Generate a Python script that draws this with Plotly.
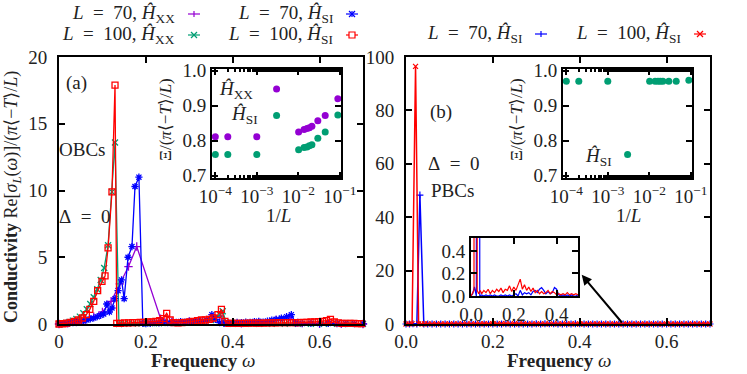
import plotly.graph_objects as go

W, H = 747, 374
FONT = "Liberation Serif"

PURPLE = "#9400d3"
GREEN = "#009e73"
BLUE = "#0000ff"
RED = "#ff0000"

# ---- panel (a): open boundaries, Delta = 0 ----
w_xx70 = [0, 0.02, 0.04, 0.06, 0.08, 0.1, 0.12, 0.14, 0.16, 0.179, 0.234, 0.26, 0.3,
          0.34, 0.37, 0.38, 0.42, 0.46, 0.5, 0.53, 0.55, 0.6, 0.65, 0.7]
s_xx70 = [0, 0.05, 0.15, 0.3, 0.55, 0.9, 1.7, 3.0, 4.3, 5.8, 0.4, 0.15, 0.2,
          0.3, 0.6, 0.1, 0.05, 0.1, 0.3, 0.5, 0.1, 0.02, 0.01, 0.0]

w_xx100 = [0, 0.008, 0.016, 0.024, 0.032, 0.04, 0.048, 0.056, 0.064, 0.072, 0.08, 0.088,
           0.096, 0.104, 0.113, 0.122, 0.129, 0.138, 0.15, 0.17, 0.19, 0.21, 0.23, 0.25,
           0.27, 0.29, 0.31, 0.33, 0.35, 0.36, 0.37, 0.377, 0.385, 0.4, 0.43, 0.46, 0.49,
           0.52, 0.55, 0.58, 0.61, 0.64, 0.67, 0.7]
s_xx100 = [0, 0.03, 0.08, 0.15, 0.25, 0.38, 0.55, 0.8, 1.1, 1.5, 2.0, 2.6,
           3.3, 4.2, 5.9, 9.9, 13.6, 0.0, 0.02, 0.03, 0.04, 0.05, 0.06, 0.08,
           0.1, 0.12, 0.15, 0.2, 0.3, 0.45, 0.7, 0.95, 0.1, 0.02, 0.01, 0.01, 0.01,
           0.01, 0.01, 0.01, 0.01, 0.01, 0.01, 0.01]

w_si70 = [0, 0.008, 0.016, 0.024, 0.032, 0.04, 0.048, 0.056, 0.064, 0.072, 0.08, 0.088,
          0.096, 0.103, 0.11, 0.116, 0.122, 0.129, 0.136, 0.144, 0.15, 0.159, 0.168,
          0.175, 0.184, 0.193, 0.2, 0.21, 0.22, 0.23, 0.24, 0.25, 0.26, 0.27, 0.28,
          0.29, 0.3, 0.31, 0.32, 0.33, 0.34, 0.352, 0.36, 0.37, 0.38, 0.39, 0.4, 0.41,
          0.42, 0.43, 0.44, 0.45, 0.46, 0.47, 0.48, 0.49, 0.5, 0.512, 0.524, 0.535,
          0.545, 0.56, 0.58, 0.6, 0.62, 0.64, 0.66, 0.68, 0.7]
s_si70 = [0, 0.02, 0.04, 0.07, 0.1, 0.15, 0.2, 0.25, 0.3, 0.38, 0.45, 0.55,
          0.65, 0.75, 1.5, 0.9, 1.2, 1.9, 2.5, 3.3, 1.9, 5.0, 5.8,
          10.3, 11.0, 0.05, 0.02, 0.05, 0.1, 0.08, 0.12, 0.1, 0.15, 0.12, 0.18,
          0.15, 0.2, 0.18, 0.22, 0.25, 0.3, 0.7, 0.35, 0.1, 0.05, 0.08, 0.1, 0.12,
          0.1, 0.15, 0.12, 0.18, 0.2, 0.15, 0.22, 0.3, 0.35, 0.45, 0.55, 0.7,
          0.05, 0.03, 0.05, 0.03, 0.04, 0.03, 0.03, 0.02, 0.02]

w_si100 = [0, 0.009, 0.018, 0.027, 0.036, 0.045, 0.054, 0.063, 0.071, 0.08, 0.089, 0.099,
           0.106, 0.113, 0.122, 0.129, 0.133, 0.142, 0.151, 0.16, 0.169, 0.178, 0.187,
           0.196, 0.205, 0.214, 0.223, 0.232, 0.24, 0.248, 0.256, 0.265, 0.274, 0.283,
           0.292, 0.301, 0.31, 0.319, 0.328, 0.337, 0.346, 0.355, 0.366, 0.374, 0.382,
           0.391, 0.4, 0.409, 0.418, 0.427, 0.436, 0.445, 0.454, 0.463, 0.472, 0.481,
           0.49, 0.499, 0.508, 0.517, 0.526, 0.535, 0.544, 0.553, 0.562, 0.571, 0.58,
           0.589, 0.598, 0.607, 0.616, 0.625, 0.634, 0.643, 0.652, 0.661, 0.67, 0.679,
           0.688, 0.697]
s_si100 = [0, 0.02, 0.06, 0.12, 0.2, 0.3, 0.45, 0.7, 1.1, 1.7, 2.5, 3.2,
           3.6, 5.7, 9.9, 17.9, 0.05, 0.05, 0.08, 0.08, 0.1, 0.1, 0.12,
           0.12, 0.15, 0.15, 0.2, 0.25, 0.4, 0.8, 0.3, 0.1, 0.08, 0.1,
           0.12, 0.15, 0.2, 0.25, 0.3, 0.3, 0.35, 0.45, 0.7, 1.1, 0.2,
           0.05, 0.05, 0.05, 0.05, 0.05, 0.06, 0.06, 0.06, 0.07, 0.07, 0.08,
           0.08, 0.09, 0.1, 0.1, 0.1, 0.1, 0.1, 0.1, 0.12, 0.12, 0.15,
           0.15, 0.18, 0.2, 0.25, 0.35, 0.15, 0.08, 0.05, 0.05, 0.04, 0.04,
           0.03, 0.03]

# inset (a): Xi / (pi <-T> / L) versus 1/L
inv_L = [1e-4, 2e-4, 1e-3, 3e-3, 0.0102, 0.0138, 0.0162, 0.0185, 0.0213, 0.0296, 0.0446, 0.09]
xi_xx = [0.811, 0.811, 0.811, 0.948, 0.825, 0.832, 0.835, 0.837, 0.841, 0.857, 0.872, 0.920]
xi_si = [0.760, 0.760, 0.760, 0.872, 0.774, 0.780, 0.782, 0.785, 0.788, 0.807, 0.825, 0.873]
xi_xx_limit = 0.811
xi_si_limit = 0.760

# ---- panel (b): periodic boundaries, Delta = 0 ----
w_pbc70 = [0, 0.008, 0.016, 0.025, 0.032, 0.041, 0.05,
           0.06, 0.07, 0.08, 0.09, 0.1, 0.11, 0.12, 0.13, 0.14, 0.15, 0.16, 0.17, 0.18,
           0.19, 0.2, 0.21, 0.22, 0.23, 0.24, 0.25, 0.26, 0.27, 0.28, 0.29, 0.3, 0.31,
           0.32, 0.33, 0.34, 0.35, 0.36, 0.37, 0.38, 0.39, 0.4, 0.41, 0.42, 0.43, 0.44,
           0.45, 0.46, 0.47, 0.48, 0.49, 0.5, 0.51, 0.52, 0.53, 0.54, 0.55, 0.56, 0.57,
           0.58, 0.59, 0.6, 0.61, 0.62, 0.63, 0.64, 0.65, 0.66, 0.67, 0.68, 0.69, 0.7]
s_pbc70 = [0, 0.02, 0.08, 0.0, 48.3, 0.0, 0.01,
           0.0, 0.01, 0.0, 0.01, 0.0, 0.01, 0.0, 0.0, 0.01, 0.0, 0.01, 0.0, 0.01,
           0.0, 0.01, 0.02, 0.0, 0.05, 0.01, 0.03, 0.02, 0.03, 0.01, 0.04, 0.05, 0.03,
           0.06, 0.075, 0.05, 0.02, 0.04, 0.02, 0.03, 0.075, 0.06, 0.01, 0.0, 0.01, 0.0,
           0.01, 0.0, 0.01, 0.0, 0.0, 0.01, 0.0, 0.0, 0.01, 0.0, 0.0, 0.01, 0.0,
           0.0, 0.01, 0.0, 0.0, 0.0, 0.01, 0.0, 0.0, 0.0, 0.0, 0.01, 0.0, 0.0]

w_pbc100 = [0, 0.007, 0.014, 0.022, 0.029, 0.036, 0.043, 0.05,
            0.06, 0.07, 0.08, 0.09, 0.1, 0.11, 0.12, 0.13, 0.14, 0.15, 0.16, 0.17, 0.18,
            0.19, 0.2, 0.21, 0.22, 0.23, 0.24, 0.25, 0.26, 0.27, 0.28, 0.29, 0.3, 0.31,
            0.32, 0.33, 0.34, 0.35, 0.36, 0.37, 0.38, 0.39, 0.4, 0.41, 0.42, 0.43, 0.44,
            0.45, 0.46, 0.47, 0.48, 0.49, 0.5, 0.51, 0.52, 0.53, 0.54, 0.55, 0.56, 0.57,
            0.58, 0.59, 0.6, 0.61, 0.62, 0.63, 0.64, 0.65, 0.66, 0.67, 0.68, 0.69, 0.7]
s_pbc100 = [0, 0.03, 0.05, 96.5, 0.05, 0.02, 0.05, 0.02,
            0.05, 0.03, 0.06, 0.02, 0.05, 0.03, 0.06, 0.04, 0.07, 0.03, 0.06, 0.05, 0.09,
            0.04, 0.08, 0.05, 0.1, 0.15, 0.06, 0.1, 0.05, 0.08, 0.04, 0.07, 0.03, 0.05,
            0.02, 0.04, 0.02, 0.03, 0.05, 0.02, 0.04, 0.03, 0.01, 0.02, 0.01, 0.02, 0.01,
            0.03, 0.01, 0.02, 0.01, 0.02, 0.01, 0.02, 0.01, 0.01, 0.02, 0.01, 0.01, 0.02,
            0.01, 0.01, 0.02, 0.01, 0.01, 0.01, 0.02, 0.01, 0.01, 0.01, 0.01, 0.01, 0.01]

# inset (b)
xi_si_pbc = [0.97, 0.97, 0.97, 0.76, 0.97, 0.97, 0.97, 0.97, 0.97, 0.97, 0.97, 0.973]
xi_si_pbc_limit = 0.97


def px(x):
    return x / W


def py(y):
    return 1 - y / H


def axis(domain, rng, anchor, size=19, **kw):
    d = dict(domain=domain, range=rng, anchor=anchor, showline=True, linecolor="black",
             linewidth=2, mirror="ticks", ticks="inside", ticklen=6, tickwidth=1.5,
             tickcolor="black", showgrid=False, zeroline=False, automargin=False,
             tickfont=dict(family=FONT, size=size, color="#222"))
    d.update(kw)
    return d


fig = go.Figure()

# main (a)
for w, s, c, sym, name in [(w_xx70, s_xx70, PURPLE, "cross-thin-open", "L70 XX"),
                           (w_xx100, s_xx100, GREEN, "x-thin-open", "L100 XX"),
                           (w_si70, s_si70, BLUE, "asterisk-open", "L70 SI"),
                           (w_si100, s_si100, RED, "square-open", "L100 SI")]:
    fig.add_trace(go.Scatter(x=w, y=s, mode="lines+markers", name=name, xaxis="x", yaxis="y",
                             line=dict(color=c, width=1.3), cliponaxis=False,
                             marker=dict(symbol=sym, size=6, color=c, line=dict(width=1.3, color=c)),
                             showlegend=False))

# main (b)
for w, s, c, sym, name in [(w_pbc70, s_pbc70, BLUE, "cross-thin-open", "L70 SI pbc"),
                           (w_pbc100, s_pbc100, RED, "x-thin-open", "L100 SI pbc")]:
    fig.add_trace(go.Scatter(x=w, y=s, mode="lines+markers", name=name, xaxis="x2", yaxis="y2",
                             line=dict(color=c, width=1.5), cliponaxis=False,
                             marker=dict(symbol=sym, size=5, color=c, line=dict(width=1.2, color=c)),
                             showlegend=False))
    # zoomed inset
    fig.add_trace(go.Scatter(x=w, y=s, mode="lines", xaxis="x5", yaxis="y5",
                             line=dict(color=c, width=1.2), showlegend=False))

# inset (a)
fig.add_trace(go.Scatter(x=inv_L, y=xi_xx, mode="markers", xaxis="x3", yaxis="y3",
                         marker=dict(color=PURPLE, size=7), showlegend=False))
fig.add_trace(go.Scatter(x=inv_L, y=xi_si, mode="markers", xaxis="x3", yaxis="y3",
                         marker=dict(color=GREEN, size=7), showlegend=False))
# inset (b)
fig.add_trace(go.Scatter(x=inv_L, y=xi_si_pbc, mode="markers", xaxis="x4", yaxis="y4",
                         marker=dict(color=GREEN, size=7), showlegend=False))

for ax_id, val in [("3", xi_xx_limit), ("3", xi_si_limit), ("4", xi_si_pbc_limit)]:
    fig.add_shape(type="line", xref="x%s domain" % ax_id, yref="y" + ax_id, x0=0, x1=1,
                  y0=val, y1=val, line=dict(color="#333", width=1.2, dash="dashdot"), layer="below")

log_ticks = dict(type="log", tickvals=[1e-4, 1e-3, 1e-2, 1e-1],
                 ticktext=["10<sup>−4</sup>", "10<sup>−3</sup>", "10<sup>−2</sup>", "10<sup>−1</sup>"],
                 minor=dict(ticks="inside", ticklen=3, tickcolor="black"), ticklabelstandoff=0)

fig.update_layout(
    template="none",
    width=W, height=H, margin=dict(l=0, r=0, t=0, b=0, autoexpand=False),
    paper_bgcolor="white", plot_bgcolor="white",
    xaxis=axis([px(59), px(363)], [0, 0.7], "y", tickvals=[0, 0.2, 0.4, 0.6], ticklabelstandoff=-1),
    yaxis=axis([py(324), py(57)], [0, 20], "x", tickvals=[0, 5, 10, 15, 20], ticklabelstandoff=6),
    xaxis2=axis([px(406), px(710)], [0, 0.7], "y2", tickvals=[0, 0.2, 0.4, 0.6], tickformat=".1f",
                ticklabelstandoff=-1),
    yaxis2=axis([py(324), py(57)], [0, 100], "x2", tickvals=[0, 20, 40, 60, 80, 100], ticklabelstandoff=6),
    xaxis3=axis([px(212), px(341)], [-4.08, -0.97], "y3", **log_ticks),
    yaxis3=axis([py(178), py(69)], [0.693, 1.005], "x3", tickvals=[0.7, 0.8, 0.9, 1.0], tickformat=".1f"),
    xaxis4=axis([px(563), px(692)], [-4.08, -0.97], "y4", **log_ticks),
    yaxis4=axis([py(178), py(69)], [0.693, 1.005], "x4", tickvals=[0.7, 0.8, 0.9, 1.0], tickformat=".1f"),
    xaxis5=axis([px(471), px(578)], [0, 0.5], "y5", tickvals=[0, 0.2, 0.4], tickformat=".1f",
                ticklabelstandoff=0),
    yaxis5=axis([py(296), py(238)], [0, 0.515], "x5", tickvals=[0, 0.2, 0.4], tickformat=".1f"),
)

ann = []


def text(x, y, t, size=19, **kw):
    d = dict(x=px(x), y=py(y), xref="paper", yref="paper", text=t, showarrow=False,
             xanchor="center", yanchor="middle",
             font=dict(family=FONT, size=size, color="#222"))
    d.update(kw)
    ann.append(d)


EQ = "\u2002=\u2002"

text(76, 83, "(a)")
text(82, 149, "OBCs")
text(84, 216, "Δ" + EQ + "0")
text(441, 112, "(b)")
text(453, 163, "Δ" + EQ + "0")
text(452, 190, "PBCs")
text(217, 90, "<i>Ĥ</i><sub>XX</sub>", xanchor="left")
text(229, 115, "<i>Ĥ</i><sub>SI</sub>", xanchor="left")
text(583, 157, "<i>Ĥ</i><sub>SI</sub>", xanchor="left")
text(166, 120, "Ξ/(<i>π</i>⟨−<i>T</i>⟩/<i>L</i>)", size=17, textangle=-90)
text(517, 120, "Ξ/(<i>π</i>⟨−<i>T</i>⟩/<i>L</i>)", size=17, textangle=-90)
text(278, 213, "1/<i>L</i>", yanchor="top", yshift=10)
text(628, 213, "1/<i>L</i>", yanchor="top", yshift=10)
text(203, 360, "<b>Frequency</b> <i>ω</i>")
text(559, 360, "<b>Frequency</b> <i>ω</i>")
text(12, 197, "<b>Conductivity</b> Re[<i>σ</i><sub><i>L</i></sub>(<i>ω</i>)]/(<i>π</i>⟨−<i>T</i>⟩/<i>L</i>)",
     size=18, textangle=-90)


def seg(x0, y0, x1, y1, col):
    fig.add_shape(type="line", xref="paper", yref="paper", x0=px(x0), x1=px(x1),
                  y0=py(y0), y1=py(y1), line=dict(color=col, width=1.2))


# legend entries: text, then a short key line with its marker
legend_rows = [
    (177, 14, "<i>L</i>" + EQ + "70, <i>Ĥ</i><sub>XX</sub>", PURPLE, "plus"),
    (335, 14, "<i>L</i>" + EQ + "70, <i>Ĥ</i><sub>SI</sub>", BLUE, "star"),
    (177, 35, "<i>L</i>" + EQ + "100, <i>Ĥ</i><sub>XX</sub>", GREEN, "cross"),
    (335, 35, "<i>L</i>" + EQ + "100, <i>Ĥ</i><sub>SI</sub>", RED, "square"),
    (524, 34, "<i>L</i>" + EQ + "70, <i>Ĥ</i><sub>SI</sub>", BLUE, "plus"),
    (683, 34, "<i>L</i>" + EQ + "100, <i>Ĥ</i><sub>SI</sub>", RED, "cross"),
]
for xr, yc, label, col, key in legend_rows:
    text(xr, yc, label, xanchor="right")
    cx = xr + 17
    seg(xr + 11, yc, xr + 23, yc, col)
    if key in ("plus", "star"):
        seg(cx, yc - 3, cx, yc + 3, col)
    if key in ("cross", "star"):
        seg(cx - 3, yc - 3, cx + 3, yc + 3, col)
        seg(cx - 3, yc + 3, cx + 3, yc - 3, col)
    if key == "square":
        fig.add_shape(type="rect", xref="paper", yref="paper", x0=px(cx - 3), x1=px(cx + 3),
                      y0=py(yc + 3), y1=py(yc - 3), line=dict(color=col, width=1.2),
                      fillcolor="white")

# arrow from the baseline to the zoomed inset
ann.append(dict(x=0.4046, y=18.4, xref="x2", yref="y2", ax=0.5, ay=0, axref="x2", ayref="y2",
                text="", showarrow=True, arrowhead=2, arrowsize=1, arrowwidth=2, arrowcolor="black"))

fig.update_layout(annotations=ann)
fig.write_html("out.html", config={"displayModeBar": False},
               post_script="document.body.style.margin='0px';")
